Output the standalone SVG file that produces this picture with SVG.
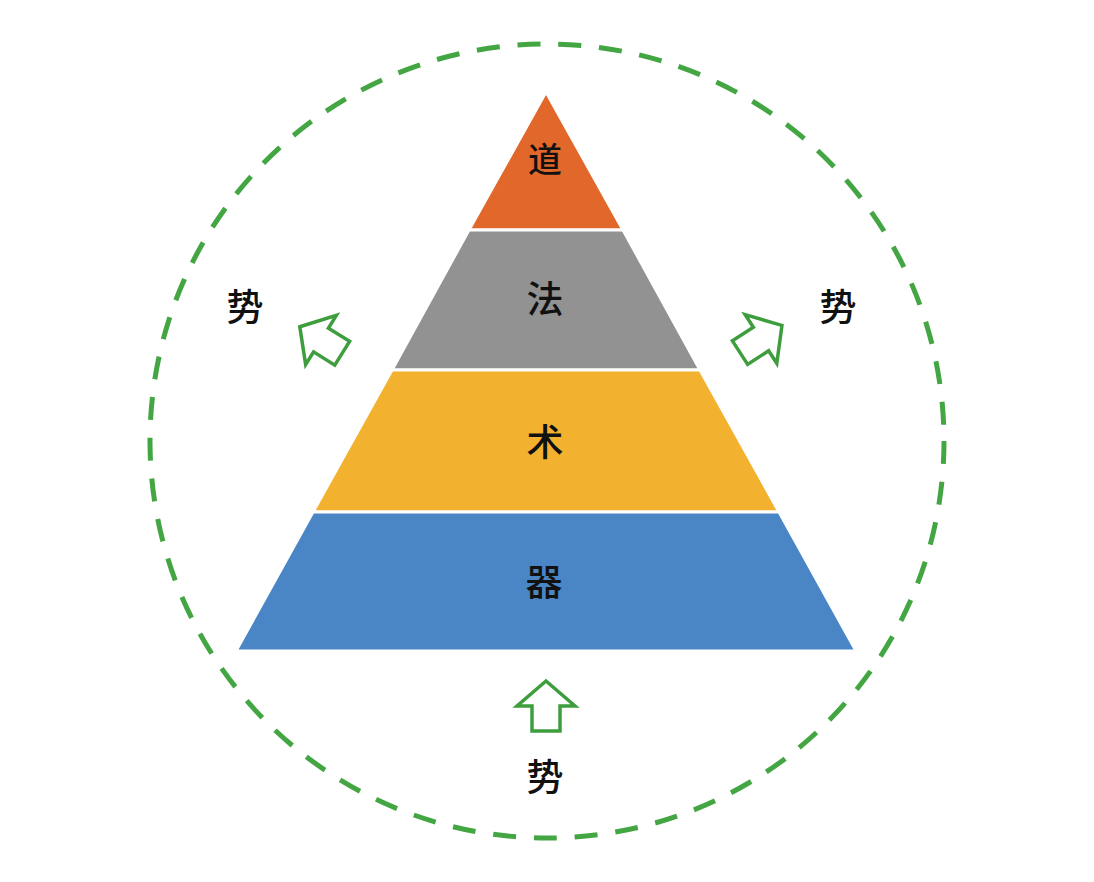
<svg xmlns="http://www.w3.org/2000/svg" width="1094" height="882" viewBox="0 0 1094 882">
  <defs>
    <style>
      .layer { stroke: #FFFFFF; stroke-width: 3; stroke-linejoin: miter; }
      .lbl { font-family: "Noto Sans CJK SC", "Noto Sans CJK JP", sans-serif; font-size: 37px; font-weight: 500; fill: #111111; text-anchor: middle; dominant-baseline: central; }
      .arrow { fill: #FFFFFF; stroke: #3E9E3E; stroke-width: 3.5; stroke-linejoin: miter; }
      .ring { fill: none; stroke: #43A643; stroke-width: 5; stroke-dasharray: 23 17.9; }
    </style>
    <path id="up" d="M0,-25 L29,0 L14,0 L14,25 L-14,25 L-14,0 L-29,0 Z"/>
  </defs>
  <rect x="0" y="0" width="1094" height="882" fill="#FFFFFF"/>
  <g id="ring">
    <circle class="ring" cx="547" cy="441" r="397"/>
  </g>
  <g id="layer-dao">
    <polygon class="layer" fill="#E2672A" points="546,92 623,230 469,230"/>
    <text class="lbl" x="545" y="157" style="font-size:34px">道</text>
  </g>
  <g id="layer-fa">
    <polygon class="layer" fill="#929292" points="469,230 623,230 700,370 392,370"/>
    <text class="lbl" x="545" y="297">法</text>
  </g>
  <g id="layer-shu">
    <polygon class="layer" fill="#F2B12E" points="392,370 700,370 779,512 313,512"/>
    <text class="lbl" x="545" y="440">术</text>
  </g>
  <g id="layer-qi">
    <polygon class="layer" fill="#4A86C5" points="313,512 779,512 856,651 236,651"/>
    <text class="lbl" x="544" y="580">器</text>
  </g>
  <g id="connectors">
    <use href="#up" class="arrow" transform="translate(321,340) rotate(-58)"/>
    <use href="#up" class="arrow" transform="translate(761,339) rotate(57)"/>
    <use href="#up" class="arrow" transform="translate(546,706)"/>
  </g>
  <g id="shi-left">
    <text class="lbl" x="245" y="305">势</text>
  </g>
  <g id="shi-right">
    <text class="lbl" x="838" y="305">势</text>
  </g>
  <g id="shi-bottom">
    <text class="lbl" x="545" y="775">势</text>
  </g>
</svg>
